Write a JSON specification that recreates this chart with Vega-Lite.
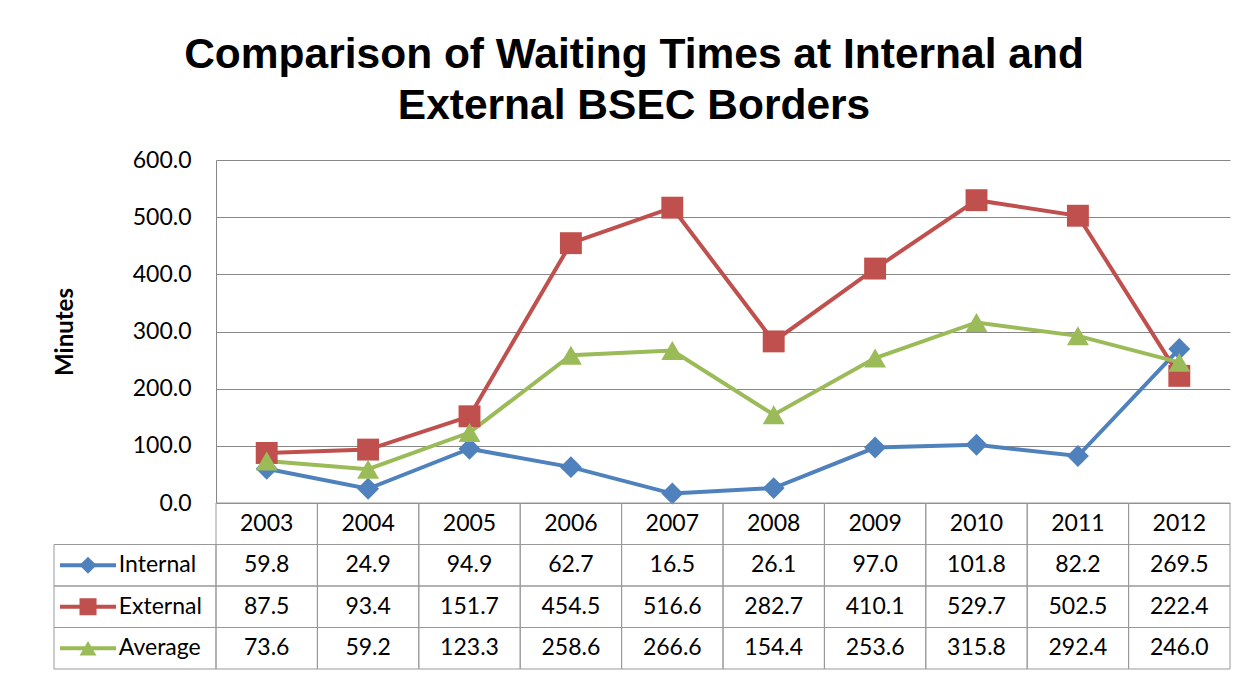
{
  "$schema": "https://vega.github.io/schema/vega-lite/v6.json",
  "width": 1014,
  "height": 343,
  "autosize": {"type": "none"},
  "padding": {"left": 216, "top": 160, "right": 18, "bottom": 172},
  "background": "white",
  "config": {"view": {"stroke": null}, "font": "Lato"},
  "title": {
    "text": ["Comparison of Waiting Times at Internal and", "External BSEC Borders"],
    "font": "Liberation Sans",
    "fontSize": 42.5,
    "fontWeight": "bold",
    "color": "#000000",
    "anchor": "middle",
    "lineHeight": 51,
    "offset": 22,
    "dx": -89
  },
  "data": {
    "values": [
      {"year": 2003, "series": "Internal", "value": 59.8},
      {"year": 2004, "series": "Internal", "value": 24.9},
      {"year": 2005, "series": "Internal", "value": 94.9},
      {"year": 2006, "series": "Internal", "value": 62.7},
      {"year": 2007, "series": "Internal", "value": 16.5},
      {"year": 2008, "series": "Internal", "value": 26.1},
      {"year": 2009, "series": "Internal", "value": 97.0},
      {"year": 2010, "series": "Internal", "value": 101.8},
      {"year": 2011, "series": "Internal", "value": 82.2},
      {"year": 2012, "series": "Internal", "value": 269.5},
      {"year": 2003, "series": "External", "value": 87.5},
      {"year": 2004, "series": "External", "value": 93.4},
      {"year": 2005, "series": "External", "value": 151.7},
      {"year": 2006, "series": "External", "value": 454.5},
      {"year": 2007, "series": "External", "value": 516.6},
      {"year": 2008, "series": "External", "value": 282.7},
      {"year": 2009, "series": "External", "value": 410.1},
      {"year": 2010, "series": "External", "value": 529.7},
      {"year": 2011, "series": "External", "value": 502.5},
      {"year": 2012, "series": "External", "value": 222.4},
      {"year": 2003, "series": "Average", "value": 73.6},
      {"year": 2004, "series": "Average", "value": 59.2},
      {"year": 2005, "series": "Average", "value": 123.3},
      {"year": 2006, "series": "Average", "value": 258.6},
      {"year": 2007, "series": "Average", "value": 266.6},
      {"year": 2008, "series": "Average", "value": 154.4},
      {"year": 2009, "series": "Average", "value": 253.6},
      {"year": 2010, "series": "Average", "value": 315.8},
      {"year": 2011, "series": "Average", "value": 292.4},
      {"year": 2012, "series": "Average", "value": 246.0}
    ]
  },
  "layer": [
    {
      "encoding": {
        "x": {"field": "year", "type": "ordinal", "bandPosition": 0.5, "scale": {"type": "band", "paddingInner": 0, "paddingOuter": 0}, "axis": null},
        "y": {
          "field": "value", "type": "quantitative",
          "scale": {"domain": [0, 600], "nice": false, "zero": true},
          "axis": {
            "values": [0, 100, 200, 300, 400, 500, 600],
            "format": ".1f",
            "grid": true, "gridColor": "#888888", "gridWidth": 1,
            "domain": true, "domainColor": "#888888", "domainWidth": 1,
            "ticks": false,
            "labelPadding": 25, "labelFont": "Lato", "labelFontSize": 23, "labelColor": "#000000",
            "title": "Minutes", "titleFont": "Lato", "titleFontSize": 24, "titleFontWeight": "bold", "titleColor": "#000000", "titlePadding": 55
          }
        },
        "color": {"field": "series", "type": "nominal", "scale": {"domain": ["Internal", "External", "Average"], "range": ["#4F81BD", "#C0504D", "#9BBB59"]}, "legend": null}
      },
      "layer": [
        {"mark": {"type": "line", "strokeWidth": 4}},
        {"mark": {"type": "point", "filled": true, "size": 480, "opacity": 1},
         "encoding": {"shape": {"field": "series", "type": "nominal", "scale": {"domain": ["Internal", "External", "Average"], "range": ["diamond", "square", "triangle-up"]}, "legend": null}}}
      ]
    },
    {
      "layer": [
        {
          "transform": [{"filter": "datum.series === 'Internal'"}],
          "mark": {"type": "rect", "fillOpacity": 0, "stroke": "#999999", "strokeWidth": 1},
          "encoding": {
            "x": {"field": "year", "type": "ordinal", "scale": {"type": "band", "paddingInner": 0, "paddingOuter": 0}, "axis": null},
            "y": {"datum": "Year", "type": "nominal", "scale": {"type": "band", "domain": ["Year", "Internal", "External", "Average"], "range": [343, 509], "paddingInner": 0, "paddingOuter": 0}, "axis": null}
          }
        },
        {
          "transform": [{"filter": "datum.series === 'Internal'"}],
          "mark": {"type": "text", "font": "Lato", "fontSize": 23, "color": "#000000", "baseline": "middle", "align": "center"},
          "encoding": {
            "x": {"field": "year", "type": "ordinal", "bandPosition": 0.5},
            "y": {"datum": "Year", "type": "nominal", "bandPosition": 0.5},
            "text": {"field": "year", "type": "nominal"}
          }
        },
        {
          "mark": {"type": "rect", "fillOpacity": 0, "stroke": "#999999", "strokeWidth": 1},
          "encoding": {
            "x": {"field": "year", "type": "ordinal"},
            "y": {"field": "series", "type": "nominal"}
          }
        },
        {
          "mark": {"type": "text", "font": "Lato", "fontSize": 23, "color": "#000000", "baseline": "middle", "align": "center"},
          "encoding": {
            "x": {"field": "year", "type": "ordinal", "bandPosition": 0.5},
            "y": {"field": "series", "type": "nominal", "bandPosition": 0.5},
            "text": {"field": "value", "type": "quantitative", "format": ".1f"}
          }
        }
      ]
    },
    {
      "transform": [{"filter": "datum.year === 2003"}],
      "layer": [
        {
          "mark": {"type": "rect", "fillOpacity": 0, "stroke": "#999999", "strokeWidth": 1},
          "encoding": {
            "x": {"datum": 0, "type": "quantitative", "scale": {"domain": [0, 1], "range": [-162, 0], "nice": false, "zero": false}, "axis": null},
            "x2": {"datum": 1},
            "y": {"field": "series", "type": "nominal", "scale": {"type": "band", "domain": ["Year", "Internal", "External", "Average"], "range": [343, 509], "paddingInner": 0, "paddingOuter": 0}, "axis": null}
          }
        },
        {
          "mark": {"type": "rule", "strokeWidth": 4},
          "encoding": {
            "x": {"datum": 0.037, "type": "quantitative"},
            "x2": {"datum": 0.383},
            "y": {"field": "series", "type": "nominal", "bandPosition": 0.5},
            "color": {"field": "series", "type": "nominal", "legend": null}
          }
        },
        {
          "mark": {"type": "point", "filled": true, "size": 290, "opacity": 1},
          "encoding": {
            "x": {"datum": 0.21, "type": "quantitative"},
            "y": {"field": "series", "type": "nominal", "bandPosition": 0.5},
            "color": {"field": "series", "type": "nominal", "legend": null},
            "shape": {"field": "series", "type": "nominal", "legend": null}
          }
        },
        {
          "mark": {"type": "text", "font": "Lato", "fontSize": 23, "color": "#000000", "baseline": "middle", "align": "left"},
          "encoding": {
            "x": {"datum": 0.4, "type": "quantitative"},
            "y": {"field": "series", "type": "nominal", "bandPosition": 0.5},
            "text": {"field": "series", "type": "nominal"}
          }
        }
      ]
    }
  ],
  "resolve": {"scale": {"x": "independent", "y": "independent"}}
}
